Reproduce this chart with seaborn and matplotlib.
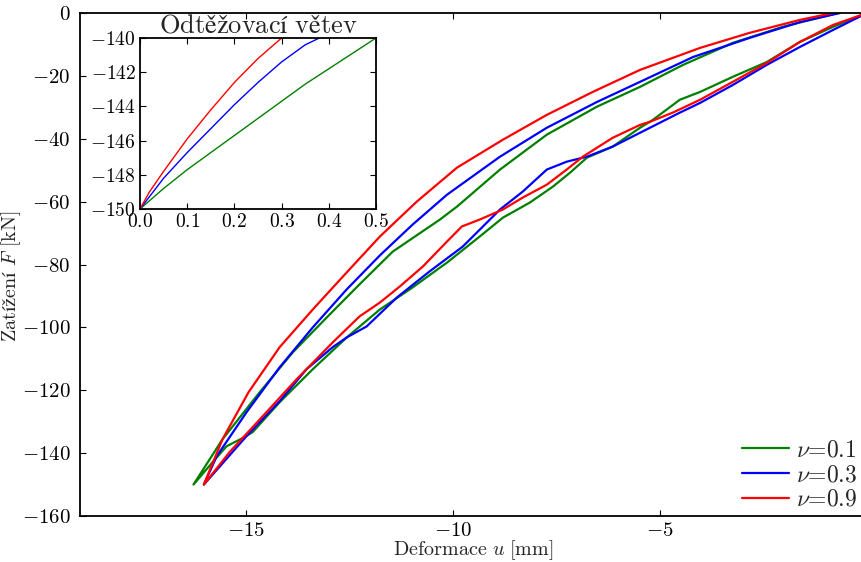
import numpy as np
import pandas as pd
import matplotlib
matplotlib.use("Agg")
import matplotlib.pyplot as plt
import seaborn as sns

# ---- data ----
nu_labels = ["0.1", "0.3", "0.9"]
colors = ["#008000", "#0000ff", "#ff0000"]

# loading branches (from 0 down to -150)
load_u_01 = [0.0, -0.82, -1.62, -2.42, -3.24, -4.03, -4.52, -5.17, -5.48, -6.14, -6.76, -7.17, -7.58, -8.14, -8.79, -9.35, -10.14, -10.31, -10.97, -11.76, -12.56, -13.38, -14.18, -14.83, -15.07, -15.46, -15.80, -16.26]
load_F_01 = [0.0, -4.4, -9.2, -15.6, -20.3, -25.1, -27.6, -34.0, -36.5, -42.5, -46.0, -50.8, -55.2, -60.3, -65.1, -71.1, -79.4, -81.0, -87.3, -94.3, -103.2, -113.3, -123.8, -133.3, -135.2, -137.8, -142.9, -150.0]
load_u_03 = [0.0, -0.82, -1.62, -2.42, -3.24, -4.03, -4.52, -5.24, -5.48, -6.14, -6.76, -7.25, -7.73, -8.31, -8.86, -9.76, -10.56, -11.35, -12.08, -12.56, -12.90, -13.53, -14.18, -14.98, -16.01]
load_F_03 = [0.0, -5.4, -10.8, -16.5, -22.9, -28.6, -31.7, -36.5, -38.1, -42.5, -45.7, -47.3, -49.8, -56.8, -62.5, -74.3, -82.2, -90.5, -99.7, -103.2, -106.3, -113.3, -123.5, -134.6, -150.0]
load_u_09 = [0.0, -0.82, -1.62, -2.42, -3.24, -4.03, -4.69, -5.24, -5.48, -6.14, -6.86, -7.25, -7.73, -8.31, -8.79, -9.35, -9.78, -10.14, -10.72, -11.28, -11.76, -12.25, -12.90, -13.77, -14.59, -15.39, -16.01]
load_F_09 = [0.0, -3.8, -9.2, -15.9, -21.9, -27.6, -31.7, -34.6, -35.6, -39.7, -45.7, -49.8, -54.6, -58.7, -62.5, -65.7, -67.9, -72.7, -80.6, -87.0, -92.1, -96.5, -104.8, -116.5, -128.3, -139.7, -150.0]

# unloading branches (from -150 back up to 0)
unl_u_01 = [-16.26, -15.56, -14.66, -13.86, -13.04, -12.25, -11.45, -10.31, -9.90, -8.86, -7.73, -6.52, -5.48, -4.44, -3.24, -2.03, -0.89, -0.72]
unl_F_01 = [-150.0, -135.6, -120.6, -107.9, -96.8, -86.3, -75.9, -65.7, -61.6, -49.8, -38.7, -29.8, -23.5, -16.5, -9.5, -4.4, -0.6, 0.0]
unl_u_03 = [-16.01, -15.70, -14.98, -14.18, -13.38, -12.56, -11.76, -10.97, -10.14, -8.86, -7.73, -6.52, -5.48, -4.20, -2.83, -1.62, -0.65]
unl_F_03 = [-150.0, -141.0, -127.0, -112.7, -100.0, -87.9, -77.1, -67.3, -57.8, -45.7, -36.5, -28.3, -21.9, -14.0, -7.9, -2.9, 0.0]
unl_u_09 = [-16.01, -15.56, -14.93, -14.18, -13.38, -12.56, -11.76, -10.87, -9.90, -8.79, -7.73, -6.62, -5.48, -4.03, -2.83, -1.62, -0.82]
unl_F_09 = [-150.0, -135.6, -120.6, -106.3, -94.3, -82.5, -71.1, -60.0, -49.2, -40.3, -32.4, -25.1, -18.1, -11.1, -6.3, -2.2, 0.0]

# inset: unloading branch, shifted displacement
ins_u_01 = [0.0, 0.05, 0.10, 0.15, 0.20, 0.25, 0.30, 0.35, 0.40, 0.45, 0.50]
ins_F_01 = [-150.0, -148.8, -147.7, -146.7, -145.7, -144.7, -143.7, -142.7, -141.8, -140.9, -140.0]
ins_u_03 = [0.0, 0.05, 0.10, 0.15, 0.20, 0.25, 0.30, 0.35, 0.38]
ins_F_03 = [-150.0, -148.2, -146.7, -145.3, -143.9, -142.6, -141.4, -140.4, -140.0]
ins_u_09 = [0.0, 0.02, 0.05, 0.10, 0.15, 0.20, 0.25, 0.30]
ins_F_09 = [-150.0, -149.0, -147.8, -145.9, -144.2, -142.6, -141.2, -140.0]

x_ticks = [-15, -10, -5]
y_ticks = [0, -20, -40, -60, -80, -100, -120, -140, -160]
ins_x_ticks = [0.0, 0.1, 0.2, 0.3, 0.4, 0.5]
ins_y_ticks = [-140, -142, -144, -146, -148, -150]

# ---- style ----
sns.set_style("white")
plt.rcParams["font.family"] = ["cmr10"]
plt.rcParams["mathtext.fontset"] = "cm"
plt.rcParams["axes.formatter.use_mathtext"] = True
plt.rcParams["axes.unicode_minus"] = True
plt.rcParams["axes.edgecolor"] = "black"
plt.rcParams["axes.linewidth"] = 1.3
plt.rcParams["xtick.direction"] = "in"
plt.rcParams["ytick.direction"] = "in"
plt.rcParams["xtick.top"] = True
plt.rcParams["ytick.right"] = True
plt.rcParams["xtick.bottom"] = True
plt.rcParams["ytick.left"] = True
plt.rcParams["xtick.major.size"] = 4
plt.rcParams["ytick.major.size"] = 4
plt.rcParams["xtick.color"] = "black"
plt.rcParams["ytick.color"] = "black"

fig = plt.figure(figsize=(8.62, 5.62), dpi=100)
ax = fig.add_axes([80 / 862, 46 / 562, 787 / 862, 503 / 562])

rows = []
loads = [(load_u_01, load_F_01), (load_u_03, load_F_03), (load_u_09, load_F_09)]
unls = [(unl_u_01, unl_F_01), (unl_u_03, unl_F_03), (unl_u_09, unl_F_09)]
for lab, (lu, lf), (uu, uf) in zip(nu_labels, loads, unls):
    us = list(lu) + list(uu)
    fs = list(lf) + list(uf)
    for a, b in zip(us, fs):
        rows.append({"u": a, "F": b, "nu": r"$\nu$=" + lab})
df = pd.DataFrame(rows)
pal = {r"$\nu$=" + l: c for l, c in zip(nu_labels, colors)}
sns.lineplot(data=df, x="u", y="F", hue="nu", palette=pal, sort=False,
             estimator=None, units="nu", linewidth=1.6, ax=ax, legend=True)

ax.set_xlim(-19, 0)
ax.set_ylim(-160, 0)
ax.set_xticks(x_ticks)
ax.set_yticks(y_ticks)
ax.tick_params(axis="x", labelsize=15, pad=4)
ax.tick_params(axis="y", labelsize=15, pad=7)
ax.set_xlabel(r"$\mathrm{Deformace}\ u\ \mathrm{[mm]}$", fontsize=14.5)
ax.set_ylabel(r"$\mathrm{Zatížení}\ F\ \mathrm{[kN]}$", fontsize=14.5)
ax.xaxis.set_label_coords(0.5, -(538 - 516) / 503)
ax.yaxis.set_label_coords(-(80 - 23) / 787, 0.477)
leg = ax.legend(loc="lower right", bbox_to_anchor=(857 / 862, (562 - 511) / 562),
                bbox_transform=fig.transFigure, frameon=False,
                prop={"family": "cmr10", "size": 17}, handlelength=2.0,
                handletextpad=0.3, labelspacing=0.12, borderpad=0, borderaxespad=0)

# inset
axi = fig.add_axes([140 / 862, (562 - 209) / 562, 236 / 862, 171 / 562])
irows = []
for lab, (iu, iF) in zip(nu_labels, [(ins_u_01, ins_F_01), (ins_u_03, ins_F_03), (ins_u_09, ins_F_09)]):
    for a, b in zip(iu, iF):
        irows.append({"u": a, "F": b, "nu": r"$\nu$=" + lab})
idf = pd.DataFrame(irows)
sns.lineplot(data=idf, x="u", y="F", hue="nu", palette=pal, sort=False,
             estimator=None, linewidth=1.0, ax=axi, legend=False)
axi.set_xlim(0, 0.5)
axi.set_ylim(-150, -140)
axi.set_xticks(ins_x_ticks)
axi.set_yticks(ins_y_ticks)
axi.tick_params(labelsize=14, pad=3)
axi.set_xlabel("")
axi.set_ylabel("")
axi.set_title(r"$\mathrm{Odtěžovací\ větev}$", fontsize=19, pad=1)

fig.savefig("out.png", dpi=100)
